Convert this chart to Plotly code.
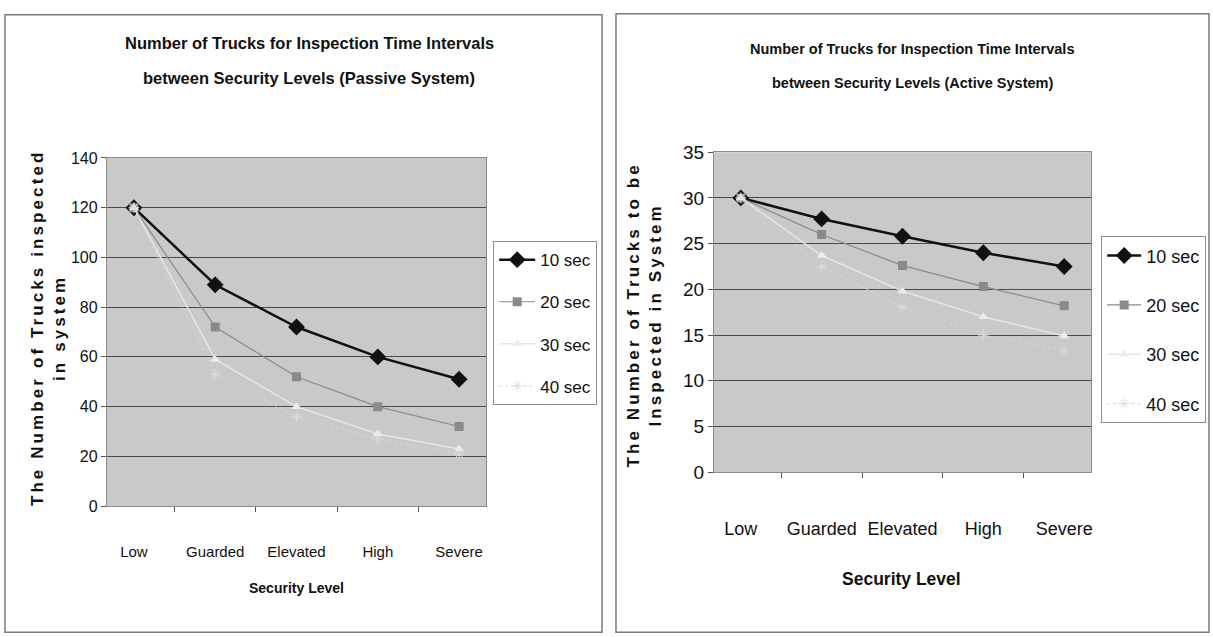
import plotly.graph_objects as go

# Security levels on the horizontal axis
categories = ["Low", "Guarded", "Elevated", "High", "Severe"]
series_names = ["10 sec", "20 sec", "30 sec", "40 sec"]

# Passive system: number of trucks inspected
passive_10 = [120, 89, 72, 60, 51]
passive_20 = [120, 72, 52, 40, 32]
passive_30 = [120, 59, 40, 29, 23]
passive_40 = [120, 53, 36, 27, 21]

# Active system: number of trucks to be inspected
active_10 = [30, 27.7, 25.8, 24.0, 22.5]
active_20 = [30, 26.0, 22.6, 20.3, 18.2]
active_30 = [30, 23.7, 19.8, 17.0, 14.9]
active_40 = [30, 22.5, 18.0, 15.0, 13.3]

W, H = 1213, 637
FONT = "Liberation Sans, Arial, sans-serif"
INK = "#111111"


def px_x(v):
    return v / W


def px_y(v):
    return 1 - v / H


styles = [
    dict(line=dict(color="#111111", width=2.5), marker=dict(symbol="diamond", size=13, color="#111111")),
    dict(line=dict(color="#8a8a8a", width=1.2), marker=dict(symbol="square", size=9, color="#8a8a8a")),
    dict(line=dict(color="#e6e6e6", width=1.5), marker=dict(symbol="triangle-up", size=9, color="#ececec")),
    dict(line=dict(color="#d9d9d9", width=1, dash="dot"),
         marker=dict(symbol="asterisk-open", size=9, color="#dcdcdc", line=dict(color="#dcdcdc", width=1))),
]

fig = go.Figure()

for name, vals, st in zip(series_names, [passive_10, passive_20, passive_30, passive_40], styles):
    fig.add_trace(go.Scatter(x=categories, y=vals, name=name, mode="lines+markers",
                             xaxis="x", yaxis="y", legend="legend", legendgroup="p" + name, **st))

for name, vals, st in zip(series_names, [active_10, active_20, active_30, active_40], styles):
    fig.add_trace(go.Scatter(x=categories, y=vals, name=name, mode="lines+markers",
                             xaxis="x2", yaxis="y2", legend="legend2", legendgroup="a" + name, **st))

axis_common = dict(showline=True, mirror=True, linecolor="#8c8c8c", linewidth=1,
                   ticks="outside", ticklen=5, tickcolor="#555555", zeroline=False)

fig.update_layout(
    width=W, height=H,
    margin=dict(l=0, r=0, t=0, b=0),
    paper_bgcolor="white",
    plot_bgcolor="#c9c9c9",
    showlegend=True,
    xaxis=dict(domain=[px_x(107), px_x(487)], anchor="y", type="category",
               tickson="boundaries", showgrid=False, ticklabelstandoff=32, tickangle=0,
               tickfont=dict(family=FONT, size=15, color=INK), **axis_common),
    yaxis=dict(domain=[px_y(513), px_y(153)], anchor="x", range=[0, 140], dtick=20,
               showgrid=True, gridcolor="#4a4a4a", gridwidth=1,
               tickfont=dict(family=FONT, size=16, color=INK), **axis_common),
    xaxis2=dict(domain=[px_x(715), px_x(1093)], anchor="y2", type="category",
                tickson="boundaries", showgrid=False, ticklabelstandoff=40, tickangle=0,
                tickfont=dict(family=FONT, size=18, color=INK), **axis_common),
    yaxis2=dict(domain=[px_y(478), px_y(147)], anchor="x2", range=[0, 35], dtick=5,
                showgrid=True, gridcolor="#4a4a4a", gridwidth=1,
                tickfont=dict(family=FONT, size=19, color=INK), **axis_common),
    legend=dict(x=px_x(494), y=px_y(239), xanchor="left", yanchor="top",
                bgcolor="white", bordercolor="#8c8c8c", borderwidth=1,
                font=dict(family=FONT, size=17, color=INK),
                tracegroupgap=17, itemwidth=36),
    legend2=dict(x=px_x(1103), y=px_y(234), xanchor="left", yanchor="top",
                 bgcolor="white", bordercolor="#8c8c8c", borderwidth=1,
                 font=dict(family=FONT, size=18, color=INK),
                 tracegroupgap=23, itemwidth=34),
)

# Panel frames
fig.add_shape(type="rect", xref="paper", yref="paper",
              x0=px_x(5), x1=px_x(603), y0=-0.01, y1=px_y(5),
              line=dict(color="#7a7a7a", width=1.5), fillcolor="rgba(0,0,0,0)", layer="below")
fig.add_shape(type="rect", xref="paper", yref="paper",
              x0=px_x(617), x1=px_x(1211), y0=-0.01, y1=px_y(4),
              line=dict(color="#7a7a7a", width=1.5), fillcolor="rgba(0,0,0,0)", layer="below")


def add_text(text, x, y, size, angle=0):
    fig.add_annotation(text=text, xref="paper", yref="paper", x=px_x(x), y=px_y(y),
                       xanchor="center", yanchor="middle", showarrow=False,
                       textangle=angle, font=dict(family=FONT, size=size, color=INK))


# Chart titles
add_text("<b>Number of Trucks for Inspection Time Intervals</b>", 310, 34, 16.5)
add_text("<b>between Security Levels (Passive System)</b>", 310, 70, 16.5)
add_text("<b>Number of Trucks for Inspection Time Intervals</b>", 914, 40, 14.5)
add_text("<b>between Security Levels (Active System)</b>", 914, 76, 14.5)

# X axis titles
add_text("<b>Security Level</b>", 297, 598, 14)
add_text("<b>Security Level</b>", 903, 588, 17.5)

# Y axis titles (spaced lettering)
add_text('<b><span style="letter-spacing:3.1px">The Number of Trucks inspected</span><br>'
         '<span style="letter-spacing:3.1px">in system</span></b>', 48, 328, 17, angle=-90)
add_text('<b><span style="letter-spacing:3.1px">The Number of Trucks to be</span><br>'
         '<span style="letter-spacing:3.1px">Inspected in System</span></b>', 646, 315, 17, angle=-90)

# Page body without default margins so the figure fills the window exactly
fig.write_html("out.html",
               post_script="document.body.style.margin='0';document.body.style.overflow='hidden';")
